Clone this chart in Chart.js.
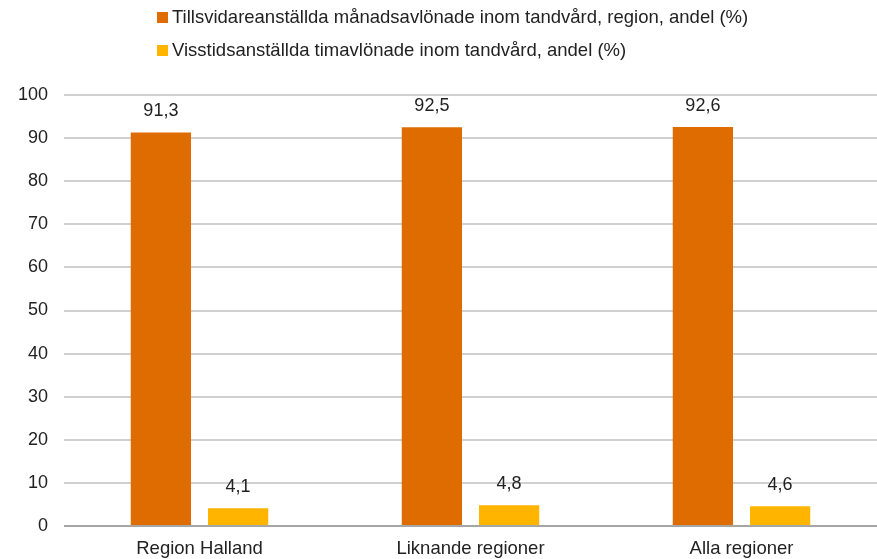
<!DOCTYPE html>
<html>
<head>
<meta charset="utf-8">
<script src="https://cdn.jsdelivr.net/npm/chart.js@4"></script>
<style>
  html, body { margin: 0; padding: 0; background: #fff; }
  #wrap { position: relative; width: 877px; height: 559px; }
  #legend { position: absolute; left: 157px; top: 4px; font: 18.5px "Liberation Sans", Arial, sans-serif; color: #222; }
  #legend div { height: 26px; line-height: 26px; margin-bottom: 7px; white-space: nowrap; }
  #legend span.box { display: inline-block; width: 11px; height: 11px; margin-right: 4px; vertical-align: 0px; }
</style>
</head>
<body>
<div id="wrap">
  <canvas id="chart" width="877" height="559"></canvas>
  <div id="legend"></div>
</div>
<script>
const categories = ['Region Halland', 'Liknande regioner', 'Alla regioner'];
const seriesNames = [
    'Tillsvidareanställda månadsavlönade inom tandvård, region, andel (%)',
    'Visstidsanställda timavlönade inom tandvård, andel (%)'
];
const monthly = [91.3, 92.5, 92.6];
const hourly = [4.1, 4.8, 4.6];
const yTicks = [0, 10, 20, 30, 40, 50, 60, 70, 80, 90, 100];

const colors = ['#DF6C00', '#FFB500'];
const fontFamily = '"Liberation Sans", Arial, sans-serif';
const labelFont = { family: fontFamily, size: 18.5 };
const tickFont = { family: fontFamily, size: 18 };

// värden ovanför staplarna, med komma som decimaltecken
const valueLabels = {
    id: 'valueLabels',
    afterDatasetsDraw(chart) {
        const ctx = chart.ctx;
        ctx.save();
        ctx.font = `${tickFont.size}px ${fontFamily}`;
        ctx.fillStyle = '#222';
        ctx.textAlign = 'center';
        ctx.textBaseline = 'alphabetic';
        chart.data.datasets.forEach((ds, i) => {
            chart.getDatasetMeta(i).data.forEach((bar, j) => {
                const txt = ds.data[j].toFixed(1).replace('.', ',');
                ctx.fillText(txt, bar.x, bar.y - 16);
            });
        });
        ctx.restore();
    }
};

const chart = new Chart(document.getElementById('chart'), {
    type: 'bar',
    data: {
        labels: categories,
        datasets: [
            { label: seriesNames[0], data: monthly, backgroundColor: colors[0] },
            { label: seriesNames[1], data: hourly, backgroundColor: colors[1] }
        ]
    },
    options: {
        responsive: false,
        animation: false,
        categoryPercentage: 0.57,
        barPercentage: 0.78,
        layout: { padding: { top: 95, right: 0, left: 0, bottom: 0 } },
        plugins: {
            legend: { display: false },
            tooltip: { enabled: false }
        },
        scales: {
            x: {
                grid: { display: false, drawTicks: false },
                border: { display: false },
                ticks: { font: labelFont, color: '#222', padding: 12 },
                afterFit(scale) { scale.height = 33; }
            },
            y: {
                min: 0,
                max: 100,
                afterBuildTicks(scale) { scale.ticks = yTicks.map(v => ({ value: v })); },
                grid: {
                    drawTicks: false,
                    color: ctx => ctx.tick && ctx.tick.value === 0 ? '#A6A6A6' : '#D0D0D0',
                    lineWidth: 2
                },
                border: { display: false },
                ticks: { font: tickFont, color: '#222', padding: 16 },
                afterFit(scale) { scale.width = 64; }
            }
        }
    },
    plugins: [valueLabels]
});

// legenden byggs från datasetens namn och färger
const legend = document.getElementById('legend');
chart.data.datasets.forEach(ds => {
    const row = document.createElement('div');
    row.innerHTML = `<span class="box" style="background:${ds.backgroundColor}"></span>${ds.label}`;
    legend.appendChild(row);
});
</script>
</body>
</html>
